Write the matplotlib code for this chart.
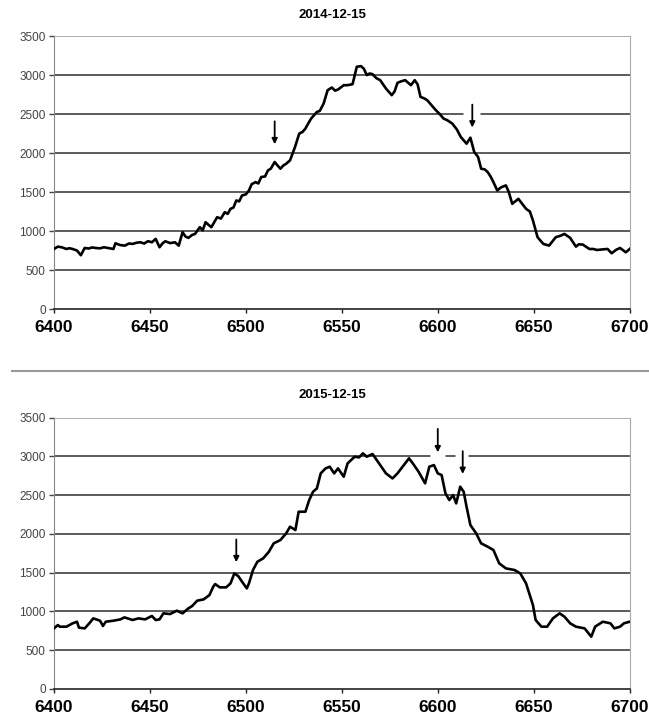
import matplotlib
matplotlib.use("Agg")
import matplotlib.pyplot as plt
from matplotlib.lines import Line2D

# spectrum 2014-12-15 (wavelength, counts)
wave_2014 = [6400, 6402, 6404, 6406.5, 6408, 6409.7, 6412, 6414, 6416, 6418,
             6420, 6421.6, 6424, 6426, 6428, 6431, 6432, 6434.5, 6437, 6439,
             6441, 6443, 6445, 6447, 6449, 6451, 6453, 6455, 6456.5, 6458,
             6460.5, 6463, 6465, 6467, 6468.5, 6470, 6472, 6473.5, 6476, 6477.5,
             6479, 6480.5, 6482, 6485, 6487, 6489, 6490.5, 6492, 6493.5, 6495,
             6496.5, 6498, 6500, 6501.6, 6503, 6505, 6506.5, 6508, 6510, 6511.5,
             6513, 6515, 6516.5, 6518, 6519.5, 6521, 6523, 6525.6, 6527.8, 6529.5,
             6531, 6532.5, 6534, 6537, 6538.5, 6540.5, 6542.6, 6544.8, 6546.5, 6548,
             6551, 6553, 6555.6, 6557.8, 6560, 6561.5, 6563, 6564.5, 6566, 6568,
             6570, 6571.5, 6573, 6576, 6577.5, 6579, 6581, 6583, 6586, 6588,
             6589.5, 6591, 6593, 6594.5, 6596.5, 6599, 6601, 6603, 6605, 6607.6,
             6610, 6612, 6615, 6617, 6619, 6621, 6622.6, 6624.5, 6626, 6627.5,
             6629, 6631, 6633, 6635.5, 6637, 6638.8, 6642, 6644, 6646, 6648,
             6649.6, 6652, 6655, 6658, 6661.5, 6664, 6666, 6669, 6672, 6673.5,
             6675.6, 6679, 6681, 6683, 6686, 6688.5, 6690.6, 6693, 6695, 6698,
             6700]
flux_2014 = [770, 800, 792, 770, 780, 770, 750, 690, 783, 776,
             790, 783, 778, 792, 783, 770, 843, 820, 813, 840,
             835, 850, 856, 840, 870, 856, 899, 792, 840, 869,
             845, 856, 813, 985, 930, 912, 950, 963, 1049, 1010,
             1113, 1080, 1049, 1177, 1160, 1242, 1220, 1285, 1300, 1392,
             1380, 1456, 1470, 1520, 1600, 1627, 1610, 1692, 1700, 1777,
             1800, 1885, 1840, 1799, 1840, 1863, 1906, 2077, 2249, 2270,
             2313, 2380, 2442, 2527, 2540, 2634, 2806, 2840, 2800, 2814,
             2870, 2870, 2883, 3106, 3114, 3080, 2999, 3020, 3011, 2960,
             2934, 2880, 2827, 2742, 2790, 2900, 2920, 2934, 2870, 2934,
             2880, 2720, 2700, 2677, 2620, 2549, 2500, 2442, 2420, 2377,
             2300, 2206, 2120, 2197, 2013, 1950, 1799, 1790, 1756, 1700,
             1627, 1520, 1560, 1585, 1500, 1349, 1413, 1350, 1285, 1250,
             1135, 921, 835, 813, 921, 940, 963, 912, 800, 830,
             826, 770, 770, 757, 765, 770, 715, 760, 783, 727,
             770]

# spectrum 2015-12-15
wave_2015 = [6400, 6402, 6403, 6406.5, 6409.7, 6412, 6413, 6416, 6418.4, 6420.5, 6424,
             6425.5, 6427, 6431, 6434.6, 6436.7, 6441, 6444, 6447.5, 6451, 6453, 6455,
             6457, 6460.5, 6464, 6467, 6470, 6472, 6474.6, 6478, 6481, 6483, 6484,
             6486.4, 6489.7, 6492, 6494, 6496, 6498, 6500.5, 6501.6, 6503.7, 6506, 6509,
             6512, 6514.5, 6518, 6521, 6523, 6525.8, 6527.5, 6531, 6533, 6535, 6537,
             6539, 6541.5, 6543.7, 6546, 6548, 6551, 6553, 6556.7, 6559, 6561, 6563,
             6566, 6570, 6573, 6576.4, 6579, 6583, 6585, 6587, 6590, 6593.4, 6595.6,
             6598, 6600, 6602, 6604, 6606, 6608, 6609.6, 6611.7, 6613.5, 6615, 6617,
             6620, 6622.6, 6626, 6629, 6632, 6635.5, 6640, 6643, 6646, 6649.6, 6651,
             6654, 6657, 6660, 6663.5, 6666, 6669, 6672, 6676.5, 6680, 6682, 6686,
             6690, 6692, 6695, 6697, 6700]
flux_2015 = [782, 825, 804, 804, 847, 868, 791, 782, 847, 911, 881,
             813, 868, 881, 898, 924, 890, 911, 898, 942, 890, 898,
             976, 967, 1010, 976, 1040, 1070, 1139, 1156, 1212, 1320, 1354,
             1311, 1311, 1363, 1491, 1457, 1384, 1298, 1363, 1535, 1642, 1685,
             1771, 1879, 1922, 2008, 2094, 2051, 2287, 2287, 2438, 2545, 2588,
             2782, 2846, 2868, 2782, 2846, 2739, 2911, 2997, 2988, 3040, 2997,
             3032, 2889, 2782, 2717, 2782, 2911, 2976, 2911, 2803, 2653, 2868,
             2889, 2782, 2760, 2524, 2438, 2502, 2395, 2610, 2545, 2352, 2115,
             2008, 1879, 1836, 1793, 1621, 1556, 1535, 1491, 1363, 1083, 890,
             804, 804, 911, 976, 933, 847, 804, 782, 675, 804, 868,
             847, 782, 804, 847, 868]

titles = ["2014-12-15", "2015-12-15"]
# arrows: (wavelength, tail value, tip value)
arrows_2014 = [(6515, 2442, 2077), (6618, 2656, 2292)]
arrows_2015 = [(6495, 1965, 1600), (6600, 3392, 3018), (6613, 3104, 2739)]

xticks = [6400, 6450, 6500, 6550, 6600, 6650, 6700]
yticks = [0, 500, 1000, 1500, 2000, 2500, 3000, 3500]

plt.rcParams['font.family'] = ['Liberation Sans', 'DejaVu Sans']

fig = plt.figure(figsize=(6.49, 7.28), dpi=100)


def spectrum_panel(rect, wave, flux, arrows, gaps, title, title_y):
    ax = fig.add_axes(rect)
    ax.set_xlim(6400, 6700)
    ax.set_ylim(0, 3500)
    for v in yticks[1:]:
        col = '#a0a0a0' if v == 3500 else '#404040'
        ax.axhline(v, color=col, lw=1.2, zorder=1)
    for y, x0, x1 in gaps:
        ax.hlines(y, x0, x1, color='white', lw=2.5, zorder=2)
    ax.plot(wave, flux, color='black', lw=1.9, zorder=3)
    for x, tail, tip in arrows:
        ax.annotate('', xy=(x, tip), xytext=(x, tail),
                    arrowprops=dict(arrowstyle='-|>', color='black', lw=1.3,
                                    mutation_scale=8), zorder=4)
    ax.set_xticks(xticks)
    ax.set_yticks(yticks)
    ax.tick_params(axis='x', length=3, width=1, pad=5, labelsize=12.5,
                   direction='out', colors='#222222')
    ax.tick_params(axis='y', length=3.5, width=1, pad=2.5, labelsize=8.5,
                   colors='#444444')
    for lab in ax.get_xticklabels():
        lab.set_fontweight('bold')
        lab.set_color('black')
    ax.spines['top'].set_visible(False)
    ax.spines['left'].set_color('#888888')
    ax.spines['right'].set_color('#aaaaaa')
    ax.spines['bottom'].set_color('#222222')
    ax.spines['bottom'].set_linewidth(1.2)
    fig.text(0.512, title_y, title, ha='center', va='center',
             fontsize=9.5, fontweight='bold')
    return ax


spectrum_panel([0.0832, 0.5755, 0.887, 0.375], wave_2014, flux_2014, arrows_2014,
               [(2500, 6613, 6622)], titles[0], 0.979)
spectrum_panel([0.0832, 0.0536, 0.887, 0.3726], wave_2015, flux_2015, arrows_2015,
               [(3000, 6596, 6604), (3000, 6609, 6616)], titles[1], 0.4574)

fig.add_artist(Line2D([0.018, 1.0], [0.4908, 0.4908], color='#999999', lw=1.5))

fig.savefig('out.png', dpi=100)
